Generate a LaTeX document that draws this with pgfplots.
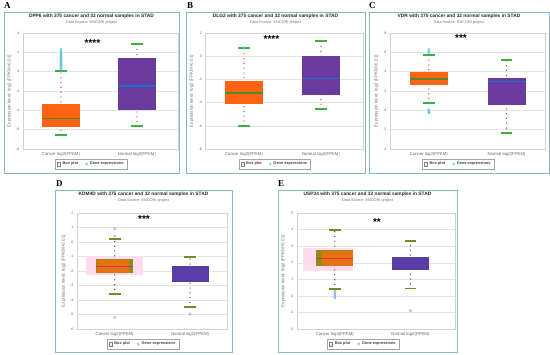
\documentclass[border=0pt]{standalone}
\usepackage{fontspec}
\setmainfont{Liberation Sans}
\newfontfamily\serifb{Liberation Serif}
\usepackage{pgfplots}
\pgfplotsset{compat=1.18}

\definecolor{frm}{HTML}{86B7CC}
\definecolor{orA}{HTML}{FF6210}
\definecolor{puA}{HTML}{6A3A9E}
\definecolor{puD}{HTML}{5A3DA6}
\definecolor{orD}{HTML}{E47212}
\definecolor{olv}{HTML}{8E8C1C}
\definecolor{capG}{HTML}{3CB043}
\definecolor{capO}{HTML}{6E8E25}
\definecolor{dotR}{HTML}{D8302A}
\definecolor{dotO}{HTML}{3E4412}
\definecolor{medG}{HTML}{4E8A2C}
\definecolor{medB}{HTML}{1E6CC8}
\definecolor{medR}{HTML}{E2303E}
\definecolor{cyo}{HTML}{5CC8D8}
\definecolor{blo}{HTML}{94A8D6}
\definecolor{pnk}{HTML}{FFDDEE}

\newcommand\whisk[4]{\addplot[#4, line width=1.35pt, line cap=round, dash pattern=on 0pt off 4.8pt, forget plot] coordinates {(#1,#2) (#1,#3)};}
\newcommand\rect[5]{\addplot[#5, forget plot] coordinates {(#1,#3) (#2,#3) (#2,#4) (#1,#4)} -- cycle;}
\newcommand\hl[4]{\addplot[#4, forget plot] coordinates {(#1,#3) (#2,#3)};}

\pgfplotsset{
  panel/.style={
    scale only axis, anchor=south west, height=116pt,
    xmin=-0.5,
    axis line style={draw=gray!35},
    ymajorgrids, grid style={gray!22, line width=0.4pt},
    major tick length=0pt,
    xtick={0,1}, xticklabels={Cancer log2(FPKM),Normal log2(FPKM)},
    yticklabel style={font=\fontsize{3.6}{4}\selectfont, text=black!60},
    xticklabel style={font=\fontsize{4.3}{5}\selectfont, text=black!60},
    /pgf/number format/assume math mode=true,
    ylabel={Expression level: log2 (FPKM+0.01)},
    every axis y label/.style={at={(axis description cs:-0.088,0.5)}, rotate=90, anchor=center, font=\fontsize{4.5}{5}\selectfont, text=black!55},
    legend columns=2,
    legend style={anchor=center, draw=gray!70, line width=0.5pt, fill=white,
      font=\fontsize{3.9}{4.5}\selectfont\bfseries, text=black!75,
      inner xsep=1.5pt, inner ysep=0.9pt,
      /tikz/every even column/.append style={column sep=5pt}},
  },
  bxleg/.style={legend image code/.code={\draw[gray, fill=gray!15, line width=0.3pt] (0pt,-1.7pt) rectangle (3.4pt,1.7pt);}},
  ptleg/.style={legend image code/.code={\draw[##1, line width=0.5pt] (1.7pt,0pt) circle (1.1pt);}},
}

\begin{document}
\begin{tikzpicture}
\useasboundingbox (0pt,0pt) rectangle (550pt,355pt);
\fill[white] (0pt,0pt) rectangle (550pt,355pt);

% frames
\begin{scope}[x=1pt,y=1pt]
\draw[frm, line width=0.9pt] (4,182) rectangle (179,343);
\draw[frm, line width=0.9pt] (186,182) rectangle (365,343);
\draw[frm, line width=0.9pt] (369,182) rectangle (549,343);
\draw[frm, line width=0.9pt] (55,3) rectangle (232,165);
\draw[frm, line width=0.9pt] (278,3) rectangle (457,165);
\end{scope}

% ---------- A ----------
\begin{axis}[panel, at={(23pt,206pt)}, width=155pt, xmax=1.54, ymin=-8, ymax=4, ytick={-8,-6,...,4},
  legend style={at={(axis description cs:0.44,-0.13)}}]
\addlegendimage{bxleg}\addlegendimage{ptleg, cyo}
\whisk{0}{-6.59}{0.07}{dotR}
\rect{-0.245}{0.245}{-5.76}{-3.38}{fill=orA, draw=none}
\hl{-0.245}{0.245}{-4.86}{medG, line width=1.1pt}
\addplot[only marks, mark=o, mark size=1.1pt, cyo, line width=0.5pt, forget plot] coordinates {
(0,0.2)(0,0.3)(0,0.45)(0,0.55)(0,0.65)(0,0.75)(0,0.85)(0,0.95)(0,1.05)(0,1.15)(0,1.25)(0,1.35)(0,1.45)(0,1.55)(0,1.65)(0,1.75)(0,1.85)(0,1.95)(0,2.05)(0,2.15)(0,2.3)};
\rect{-0.075}{0.075}{-0.023}{0.163}{fill=capG, draw=none}
\rect{-0.075}{0.075}{-6.683}{-6.497}{fill=capG, draw=none}
\whisk{1}{-5.66}{2.9}{dotR}
\rect{0.755}{1.245}{-4.0}{1.41}{fill=puA, draw=none}
\hl{0.755}{1.245}{-1.48}{medB, line width=1.1pt}
\rect{0.925}{1.075}{2.807}{2.993}{fill=capG, draw=none}
\rect{0.925}{1.075}{-5.753}{-5.567}{fill=capG, draw=none}
\legend{Box plot, Gene expressions}
\end{axis}

% ---------- B ----------
\begin{axis}[panel, at={(205.5pt,206pt)}, width=157.5pt, xmax=1.545, ymin=-8, ymax=2, ytick={-8,-6,...,2},
  legend style={at={(axis description cs:0.44,-0.13)}}]
\addlegendimage{bxleg}\addlegendimage{ptleg, cyo}
\whisk{0}{-6.0}{0.68}{dotR}
\rect{-0.245}{0.245}{-4.12}{-2.17}{fill=orA, draw=none}
\hl{-0.245}{0.245}{-3.17}{medG, line width=1.1pt}
\rect{-0.075}{0.075}{0.602}{0.758}{fill=capG, draw=none}
\rect{-0.075}{0.075}{-6.078}{-5.922}{fill=capG, draw=none}
\addplot[only marks, mark=o, mark size=1.1pt, cyo, line width=0.5pt, forget plot] coordinates {(0,0.74)};
\whisk{1}{-4.55}{1.28}{dotR}
\rect{0.755}{1.245}{-3.37}{0.0}{fill=puA, draw=none}
\hl{0.755}{1.245}{-1.94}{medB, line width=1.1pt}
\rect{0.925}{1.075}{1.202}{1.358}{fill=capG, draw=none}
\rect{0.925}{1.075}{-4.628}{-4.472}{fill=capG, draw=none}
\legend{Box plot, Gene expressions}
\end{axis}

% ---------- C ----------
\begin{axis}[panel, at={(390pt,206pt)}, width=155pt, xmax=1.495, ymin=-4, ymax=8, ytick={-4,-2,...,8},
  legend style={at={(axis description cs:0.44,-0.13)}}]
\addlegendimage{bxleg}\addlegendimage{ptleg, cyo}
\whisk{0}{0.72}{5.76}{dotR}
\rect{-0.245}{0.245}{2.59}{3.93}{fill=orA, draw=none}
\hl{-0.245}{0.245}{3.24}{medG, line width=1.1pt}
\rect{-0.075}{0.075}{5.667}{5.853}{fill=capG, draw=none}
\rect{-0.075}{0.075}{0.627}{0.813}{fill=capG, draw=none}
\addplot[only marks, mark=o, mark size=1.1pt, cyo, line width=0.5pt, forget plot] coordinates {
(0,5.95)(0,6.12)(0,6.3)(0,0.08)(0,-0.05)(0,-0.15)(0,-0.28)};
\whisk{1}{-2.34}{5.17}{dotR}
\rect{0.755}{1.245}{0.55}{3.34}{fill=puA, draw=none}
\hl{0.755}{1.245}{3.0}{medB, line width=1.1pt}
\rect{0.925}{1.075}{5.077}{5.263}{fill=capG, draw=none}
\rect{0.925}{1.075}{-2.433}{-2.247}{fill=capG, draw=none}
\legend{Box plot, Gene expressions}
\end{axis}

% ---------- D ----------
\begin{axis}[panel, at={(77pt,26pt)}, width=150pt, xmax=1.49, ymin=-6, ymax=2, ytick={-6,-5,...,2},
  legend style={at={(axis description cs:0.44,-0.13)}}]
\addlegendimage{bxleg}\addlegendimage{ptleg, blo}
\rect{-0.38}{0.38}{-2.29}{-0.96}{fill=pnk, draw=none}
\whisk{0}{-3.6}{0.23}{dotO}
\rect{-0.245}{0.245}{-2.17}{-1.19}{fill=olv, draw=none}
\rect{-0.235}{0.19}{-2.12}{-1.24}{fill=orD, draw=none}
\hl{-0.245}{0.245}{-1.72}{medR, line width=1.0pt}
\rect{-0.08}{0.08}{0.168}{0.292}{fill=capO, draw=none}
\rect{-0.08}{0.08}{-3.662}{-3.538}{fill=capO, draw=none}
\addplot[only marks, mark=o, mark size=1.1pt, blo, line width=0.5pt, forget plot] coordinates {(0,0.93)(0,0.4)(0,-5.2)};
\whisk{1}{-4.5}{-1.03}{dotO}
\rect{0.755}{1.245}{-2.79}{-1.65}{fill=puD, draw=none}
\rect{0.925}{1.075}{-1.092}{-0.968}{fill=capO, draw=none}
\rect{0.925}{1.075}{-4.562}{-4.438}{fill=capO, draw=none}
\addplot[only marks, mark=o, mark size=1.1pt, blo, line width=0.5pt, forget plot] coordinates {(1,-4.97)};
\legend{Box plot, Gene expressions}
\end{axis}

% ---------- E ----------
\begin{axis}[panel, at={(297pt,26pt)}, width=158pt, xmax=1.59, ymin=-2, ymax=5, ytick={-2,-1,...,5},
  legend style={at={(axis description cs:0.42,-0.13)}}]
\addlegendimage{bxleg}\addlegendimage{ptleg, blo}
\rect{-0.42}{0.245}{1.47}{2.88}{fill=pnk, draw=none}
\whisk{0}{0.4}{3.97}{dotO}
\rect{-0.245}{0.245}{1.79}{2.76}{fill=olv, draw=none}
\rect{-0.17}{0.24}{1.83}{2.72}{fill=orD, draw=none}
\hl{-0.245}{0.245}{2.28}{medR, line width=1.0pt}
\rect{-0.08}{0.08}{3.916}{4.024}{fill=capO, draw=none}
\rect{-0.08}{0.08}{0.346}{0.454}{fill=capO, draw=none}
\addplot[only marks, mark=o, mark size=1.1pt, blo, line width=0.5pt, forget plot] coordinates {(0,0.28)(0,0.18)(0,0.08)(0,-0.02)(0,-0.12)};
\whisk{1}{0.44}{3.29}{dotO}
\rect{0.755}{1.245}{1.57}{2.32}{fill=puD, draw=none}
\rect{0.925}{1.075}{3.236}{3.344}{fill=capO, draw=none}
\rect{0.925}{1.075}{0.386}{0.494}{fill=capO, draw=none}
\addplot[only marks, mark=o, mark size=1.1pt, blo, line width=0.5pt, forget plot] coordinates {(1,-0.9)};
\legend{Box plot, Gene expressions}
\end{axis}

\begin{scope}[x=1pt,y=1pt]
% panel letters
\node[anchor=north west, inner sep=0pt, font=\serifb\bfseries\fontsize{9}{10}\selectfont] at (4,353) {A};
\node[anchor=north west, inner sep=0pt, font=\serifb\bfseries\fontsize{9}{10}\selectfont] at (187,353) {B};
\node[anchor=north west, inner sep=0pt, font=\serifb\bfseries\fontsize{9}{10}\selectfont] at (369,353) {C};
\node[anchor=north west, inner sep=0pt, font=\serifb\bfseries\fontsize{9}{10}\selectfont] at (56,175) {D};
\node[anchor=north west, inner sep=0pt, font=\serifb\bfseries\fontsize{9}{10}\selectfont] at (278,175) {E};

% titles
\tikzset{ttl/.style={inner sep=0pt, font=\bfseries\fontsize{4.85}{5.5}\selectfont, text=black!85},
         sub/.style={inner sep=0pt, font=\fontsize{3.8}{4}\selectfont, text=black!55},
         stars/.style={inner sep=0pt, font=\bfseries\fontsize{10}{10}\selectfont}}
\node[ttl] at (91.5,339) {DPP6 with 375 cancer and 32 normal samples in STAD};
\node[sub] at (91.5,332) {Data Source: ENCORI project};
\node[ttl] at (275.5,339) {DLG2 with 375 cancer and 32 normal samples in STAD};
\node[sub] at (275.5,332) {Data Source: ENCORI project};
\node[ttl] at (459,339) {VDR with 375 cancer and 32 normal samples in STAD};
\node[sub] at (459,332) {Data Source: ENCORI project};
\node[ttl] at (143.5,161) {KDM4D with 375 cancer and 32 normal samples in STAD};
\node[sub] at (143.5,154) {Data Source: ENCORI project};
\node[ttl] at (367.5,161) {USP34 with 375 cancer and 32 normal samples in STAD};
\node[sub] at (367.5,154) {Data Source: ENCORI project};

% significance stars
\node[stars] at (92.5,312) {****};
\node[stars] at (271.5,316) {****};
\node[stars] at (461,317) {***};
\node[stars] at (144,136) {***};
\node[stars] at (377,133) {**};
\end{scope}
\end{tikzpicture}
\end{document}
